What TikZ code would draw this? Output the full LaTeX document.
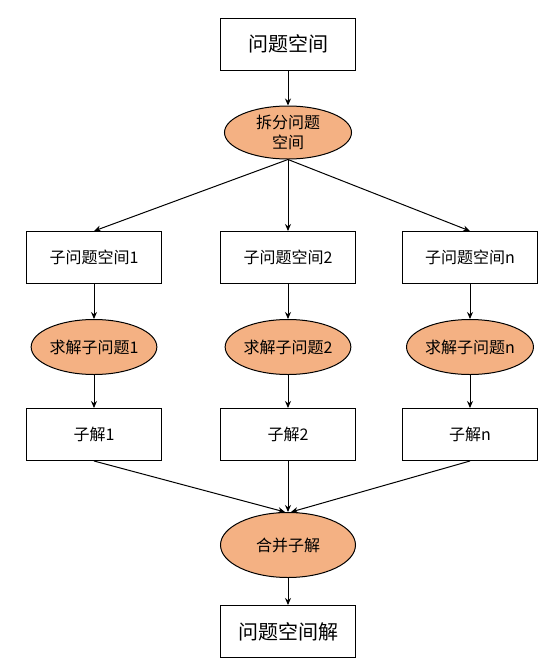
\documentclass[tikz,border=0pt]{standalone}
\usepackage{fontspec}
\setmainfont{Noto Sans CJK SC}
\usepackage{tikz}
\usetikzlibrary{arrows.meta, positioning, shapes.geometric}
\definecolor{stepfill}{RGB}{244,177,131}

\begin{document}
\begin{tikzpicture}[x=1pt, y=1pt, node distance=35pt, >={Stealth[length=7pt,width=6pt]},
  every node/.style={draw, line width=1pt, inner sep=0pt},
  box/.style={rectangle, minimum width=135pt, minimum height=52pt, font=\fontsize{16}{19}\selectfont},
  bigbox/.style={box, font=\fontsize{20}{24}\selectfont},
  work/.style={ellipse, fill=stepfill, minimum width=124pt, minimum height=55pt, font=\fontsize{16}{19}\selectfont}]
  \useasboundingbox (0,0) rectangle (556,-667);
  \node (problem) [bigbox] at (288,-44) {问题空间};
  \node (split) [work, below=of problem, minimum width=127pt, minimum height=53pt, align=center] {拆分问题\\[1pt]空间};
  \node (sub2) [box, below=71.5pt of split] {子问题空间2};
  \node (sub1) [box, left=58pt of sub2] {子问题空间1};
  \node (subn) [box, right=46pt of sub2] {子问题空间n};
  \node (solve1) [work, below=of sub1] {求解子问题1};
  \node (solve2) [work, below=of sub2] {求解子问题2};
  \node (solven) [work, below=of subn] {求解子问题n};
  \node (sol1) [box, below=33pt of solve1] {子解1};
  \node (sol2) [box, below=33pt of solve2] {子解2};
  \node (soln) [box, below=33pt of solven] {子解n};
  \node (merge) [work, below=51pt of sol2, minimum width=135pt, minimum height=65pt] {合并子解};
  \node (answer) [bigbox, below=27pt of merge] {问题空间解};

  \draw[->, line width=1pt] (problem) -- (split);
  \draw[->, line width=1pt] (split.south) -- (sub1.north);
  \draw[->, line width=1pt] (split.south) -- (sub2.north);
  \draw[->, line width=1pt] (split.south) -- (subn.north);
  \draw[->, line width=1pt] (sub1) -- (solve1);
  \draw[->, line width=1pt] (sub2) -- (solve2);
  \draw[->, line width=1pt] (subn) -- (solven);
  \draw[->, line width=1pt] (solve1) -- (sol1);
  \draw[->, line width=1pt] (solve2) -- (sol2);
  \draw[->, line width=1pt] (solven) -- (soln);
  \draw[->, line width=1pt] (sol1.south) -- ([xshift=-3pt]merge.north);
  \draw[->, line width=1pt] (sol2.south) -- (merge.north);
  \draw[->, line width=1pt] (soln.south) -- ([xshift=3pt]merge.north);
  \draw[->, line width=1pt] (merge) -- (answer);
\end{tikzpicture}
\end{document}
